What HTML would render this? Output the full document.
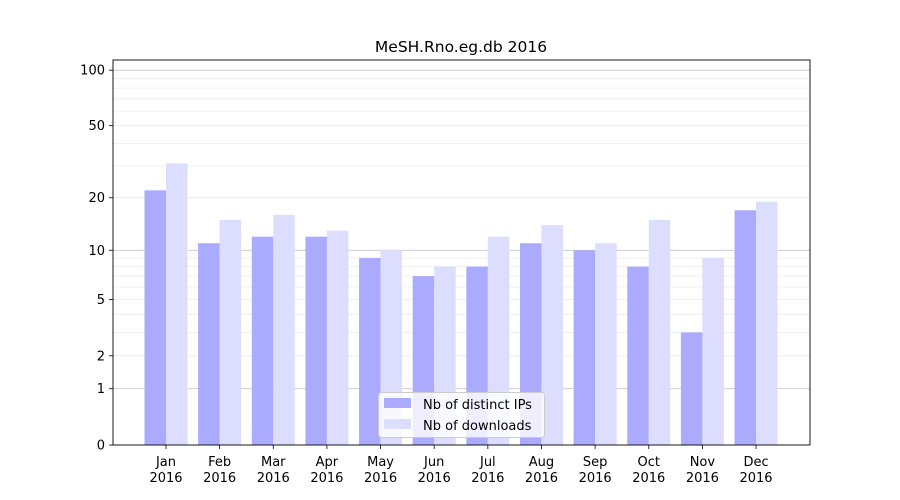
<!DOCTYPE html>
<html><head><meta charset="utf-8"><style>body{margin:0;background:#fff}svg{display:block;font-family:"DejaVu Sans","Liberation Sans",sans-serif}</style></head>
<body><svg id="s" width="900" height="500" xmlns="http://www.w3.org/2000/svg"></svg>
<script>
const s=document.getElementById('s');let h='<rect width="900" height="500" fill="#fff"/>';
const Y=v=>445-187*Math.log10(1+v);
// minor grid
[2,3,4,5,6,7,8,9,20,30,40,50,60,70,80,90].forEach(v=>{h+=`<line x1="113" x2="810" y1="${Y(v).toFixed(1)}" y2="${Y(v).toFixed(1)}" stroke="#ebebeb" stroke-width="0.8"/>`});
[1,10,100].forEach(v=>{h+=`<line x1="113" x2="810" y1="${Y(v).toFixed(1)}" y2="${Y(v).toFixed(1)}" stroke="#c8c8c8" stroke-width="0.8"/>`});
const ip=[22,11,12,12,9,7,8,11,10,8,3,17],dl=[31,15,16,13,10,8,12,14,11,15,9,19];
const m=['Jan','Feb','Mar','Apr','May','Jun','Jul','Aug','Sep','Oct','Nov','Dec'];
for(let i=0;i<12;i++){const c=166+i*53.64;
h+=`<rect x="${c-21.5}" y="${Y(ip[i])}" width="21.5" height="${445-Y(ip[i])}" fill="#aaaaff"/>`;
h+=`<rect x="${c}" y="${Y(dl[i])}" width="21.5" height="${445-Y(dl[i])}" fill="#ddddff"/>`;
h+=`<line x1="${c}" x2="${c}" y1="445" y2="449" stroke="#000" stroke-width="0.8"/>`;
h+=`<text x="${c}" y="466" font-size="13" text-anchor="middle">${m[i]}</text><text x="${c}" y="482" font-size="13" text-anchor="middle">2016</text>`;}
[0,1,2,5,10,20,50,100].forEach(v=>{const y=Y(v);h+=`<line x1="109" x2="113" y1="${y}" y2="${y}" stroke="#000" stroke-width="0.8"/><text x="105" y="${y+4.5}" font-size="13" text-anchor="end">${v}</text>`});
h+=`<rect x="113" y="60" width="697" height="385" fill="none" stroke="#000" stroke-width="0.9"/>`;
h+=`<text x="461" y="52" font-size="15.5" text-anchor="middle">MeSH.Rno.eg.db 2016</text>`;
h+=`<rect x="378.5" y="392.5" width="166" height="45" rx="3" fill="#fff" fill-opacity="0.8" stroke="#ccc"/>`;
h+=`<rect x="384" y="398" width="27" height="10" fill="#aaaaff"/><text x="423" y="409" font-size="13">Nb of distinct IPs</text>`;
h+=`<rect x="384" y="419" width="27" height="10" fill="#ddddff"/><text x="423" y="430" font-size="13">Nb of downloads</text>`;
s.innerHTML=h;
</script></body></html>
